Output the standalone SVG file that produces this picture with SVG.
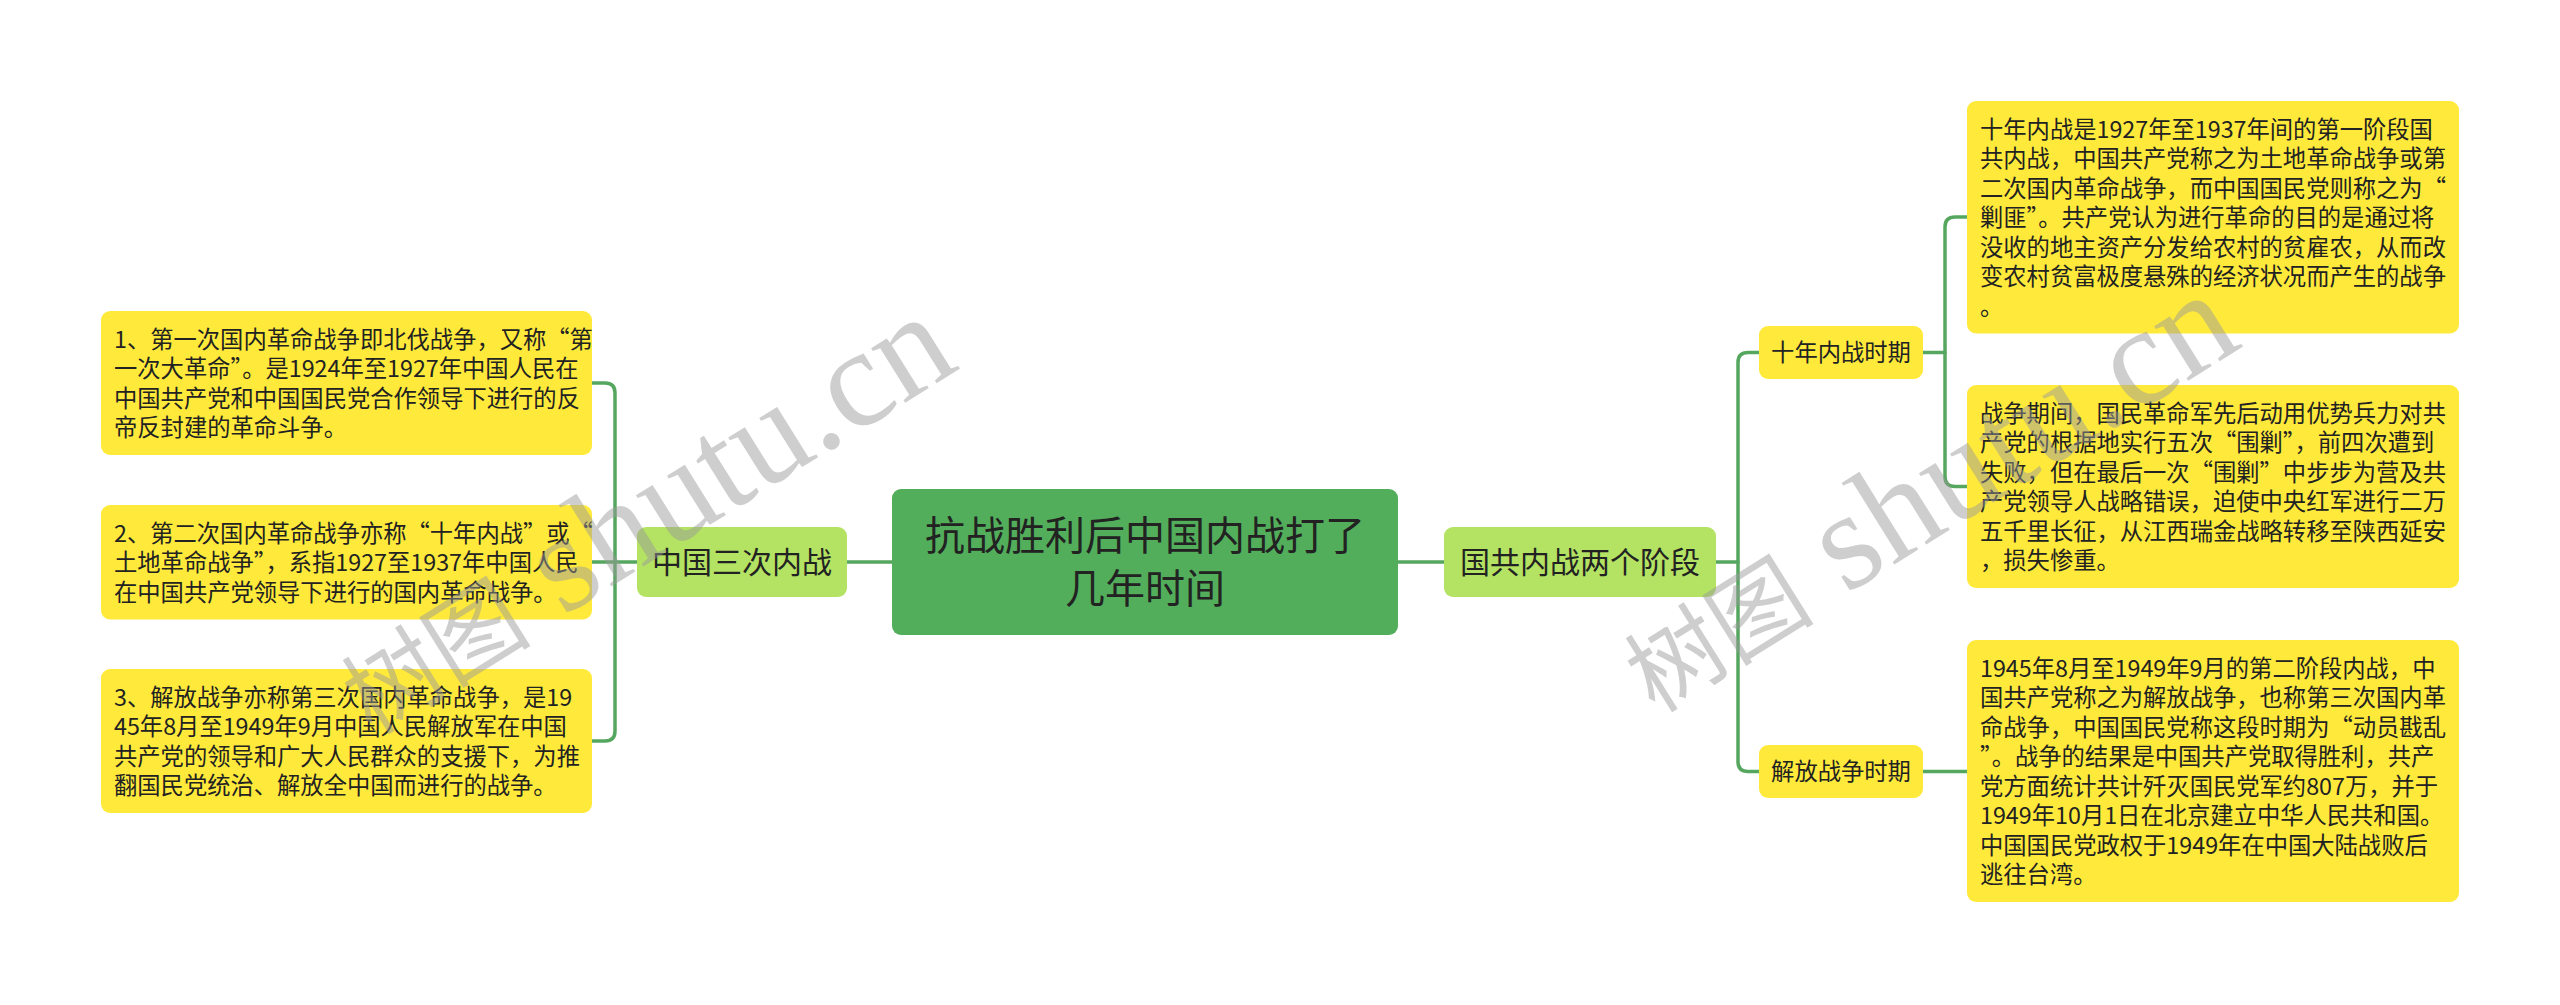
<svg xmlns="http://www.w3.org/2000/svg" width="2560" height="1005" viewBox="0 0 2560 1005">
<style>
.bg{fill:#ffffff}
.leaf{fill:#ffea3b}
.l1{fill:#b4e262}
.root{fill:#52ae5b}
.t{font-family:"Noto Sans CJK SC","Noto Sans",sans-serif;fill:#222222}
.ts{font-size:23.3px}
.tm{font-size:30px;text-anchor:middle}
.tl{font-size:40px;text-anchor:middle}
.tc{font-size:23.3px;text-anchor:middle}
.conn{fill:none;stroke:#55a75f;stroke-width:3.5;stroke-linecap:round;stroke-linejoin:round}
.wm{fill:#9a9a9a;opacity:0.48}
.wcjk{font-family:"Noto Sans CJK SC",sans-serif;font-size:95px}
.wlat{font-family:"Liberation Serif",serif;font-size:140px}
</style>
<rect class="bg" x="0" y="0" width="2560" height="1005"/>

<g id="connectors">
  <path class="conn" d="M892,562 H847"/>
  <path class="conn" d="M592,383 H605 Q615,383 615,393 V731 Q615,741 605,741 H592"/>
  <path class="conn" d="M592,562 H637"/>
  <path class="conn" d="M1398,562 H1444"/>
  <path class="conn" d="M1716,562 H1738"/>
  <path class="conn" d="M1759,352.5 H1748 Q1738,352.5 1738,362.5 V761.5 Q1738,771.5 1748,771.5 H1759"/>
  <path class="conn" d="M1923,352.5 H1945"/>
  <path class="conn" d="M1967,217 H1955 Q1945,217 1945,227 V476.5 Q1945,486.5 1955,486.5 H1967"/>
  <path class="conn" d="M1923,771.5 H1967"/>
</g>

<g id="root">
  <rect class="root" x="892" y="489" width="506" height="146" rx="9"/>
  <text class="t tl" x="1145" y="550"><tspan x="1145">抗战胜利后中国内战打了</tspan><tspan x="1145" dy="53">几年时间</tspan></text>
</g>

<g id="n-left">
  <rect class="l1" x="637" y="527" width="210" height="70" rx="9"/>
  <text class="t tm" x="742" y="573">中国三次内战</text>
</g>

<g id="n-right">
  <rect class="l1" x="1444" y="527" width="272" height="70" rx="9"/>
  <text class="t tm" x="1580" y="573">国共内战两个阶段</text>
</g>

<g id="n-l1">
  <rect class="leaf" x="101" y="311" width="491" height="144" rx="9"/>
  <text class="t ts" x="114" y="347.6"><tspan x="114">1、第一次国内革命战争即北伐战争，又称“第</tspan><tspan x="114" dy="29.5">一次大革命”。是1924年至1927年中国人民在</tspan><tspan x="114" dy="29.5">中国共产党和中国国民党合作领导下进行的反</tspan><tspan x="114" dy="29.5">帝反封建的革命斗争。</tspan></text>
</g>

<g id="n-l2">
  <rect class="leaf" x="101" y="505" width="491" height="114.5" rx="9"/>
  <text class="t ts" x="114" y="541.6"><tspan x="114">2、第二次国内革命战争亦称“十年内战”或“</tspan><tspan x="114" dy="29.5">土地革命战争”，系指1927至1937年中国人民</tspan><tspan x="114" dy="29.5">在中国共产党领导下进行的国内革命战争。</tspan></text>
</g>

<g id="n-l3">
  <rect class="leaf" x="101" y="669" width="491" height="144" rx="9"/>
  <text class="t ts" x="114" y="705.6"><tspan x="114">3、解放战争亦称第三次国内革命战争，是19</tspan><tspan x="114" dy="29.5">45年8月至1949年9月中国人民解放军在中国</tspan><tspan x="114" dy="29.5">共产党的领导和广大人民群众的支援下，为推</tspan><tspan x="114" dy="29.5">翻国民党统治、解放全中国而进行的战争。</tspan></text>
</g>

<g id="n-shinian">
  <rect class="leaf" x="1759" y="326" width="164" height="53" rx="9"/>
  <text class="t tc" x="1841" y="361.3">十年内战时期</text>
</g>

<g id="n-jiefang">
  <rect class="leaf" x="1759" y="745" width="164" height="53" rx="9"/>
  <text class="t tc" x="1841" y="780.3">解放战争时期</text>
</g>

<g id="n-r1">
  <rect class="leaf" x="1967" y="101" width="492" height="232.5" rx="9"/>
  <text class="t ts" x="1980" y="137.6"><tspan x="1980">十年内战是1927年至1937年间的第一阶段国</tspan><tspan x="1980" dy="29.5">共内战，中国共产党称之为土地革命战争或第</tspan><tspan x="1980" dy="29.5">二次国内革命战争，而中国国民党则称之为“</tspan><tspan x="1980" dy="29.5">剿匪”。共产党认为进行革命的目的是通过将</tspan><tspan x="1980" dy="29.5">没收的地主资产分发给农村的贫雇农，从而改</tspan><tspan x="1980" dy="29.5">变农村贫富极度悬殊的经济状况而产生的战争</tspan><tspan x="1980" dy="29.5">。</tspan></text>
</g>

<g id="n-r2">
  <rect class="leaf" x="1967" y="385" width="492" height="203" rx="9"/>
  <text class="t ts" x="1980" y="421.6"><tspan x="1980">战争期间，国民革命军先后动用优势兵力对共</tspan><tspan x="1980" dy="29.5">产党的根据地实行五次“围剿”，前四次遭到</tspan><tspan x="1980" dy="29.5">失败，但在最后一次“围剿”中步步为营及共</tspan><tspan x="1980" dy="29.5">产党领导人战略错误，迫使中央红军进行二万</tspan><tspan x="1980" dy="29.5">五千里长征，从江西瑞金战略转移至陕西延安</tspan><tspan x="1980" dy="29.5">，损失惨重。</tspan></text>
</g>

<g id="n-r3">
  <rect class="leaf" x="1967" y="640" width="492" height="262" rx="9"/>
  <text class="t ts" x="1980" y="676.6"><tspan x="1980">1945年8月至1949年9月的第二阶段内战，中</tspan><tspan x="1980" dy="29.5">国共产党称之为解放战争，也称第三次国内革</tspan><tspan x="1980" dy="29.5">命战争，中国国民党称这段时期为“动员戡乱</tspan><tspan x="1980" dy="29.5">”。战争的结果是中国共产党取得胜利，共产</tspan><tspan x="1980" dy="29.5">党方面统计共计歼灭国民党军约807万，并于</tspan><tspan x="1980" dy="29.5">1949年10月1日在北京建立中华人民共和国。</tspan><tspan x="1980" dy="29.5">中国国民党政权于1949年在中国大陆战败后</tspan><tspan x="1980" dy="29.5">逃往台湾。</tspan></text>
</g>

<g id="watermarks">
  <text class="wm" transform="translate(372,736) rotate(-32)"><tspan class="wcjk">树图</tspan><tspan class="wlat"> shutu.cn</tspan></text>
  <text class="wm" transform="translate(1655,714) rotate(-32)"><tspan class="wcjk">树图</tspan><tspan class="wlat"> shutu.cn</tspan></text>
</g>
</svg>
